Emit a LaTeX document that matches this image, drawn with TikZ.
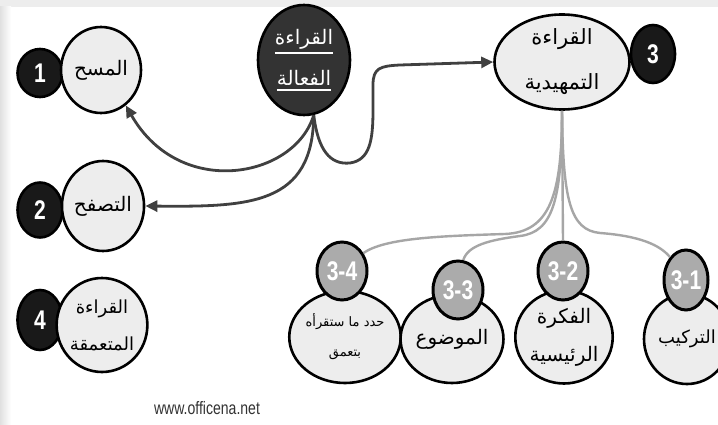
\documentclass[tikz,border=0pt]{standalone}
\usepackage{fontspec}
\setmainfont{Liberation Sans}
\newfontfamily\arabicfont[Script=Arabic]{DejaVu Sans}
\newfontfamily\numfont[FakeStretch=0.78]{Liberation Sans}
\TeXXeTstate=1
\usetikzlibrary{shapes.geometric,arrows.meta}
\def\ulline#1{\vtop{\hbox{\beginR#1\endR}\kern3pt\hrule height 2pt}}
\tikzset{
	numdot/.style={ellipse, draw=black, line width=2.6pt, fill=black!90, text=white, inner sep=0pt, font=\numfont\bfseries\fontsize{27}{27}\selectfont},
	topic/.style={ellipse, draw=black, line width=2.6pt, fill=black!7, inner sep=0pt, align=center, font=\arabicfont\fontsize{20}{38}\selectfont},
	subdot/.style={ellipse, draw=black, line width=3pt, fill=black!33, text=white, inner sep=0pt, minimum width=50pt, minimum height=58pt, font=\numfont\bfseries\fontsize{27}{27}\selectfont},
	arrowline/.style={draw=black!75, line width=2.8pt, -{Triangle[length=12pt,width=11pt]}},
	branch/.style={draw=black!35, line width=2.4pt},
}

\begin{document}
\begin{tikzpicture}[x=1pt, y=-1pt]
			%%%%% START %%%%%
			\useasboundingbox (0, 0) rectangle (718, 425);
			\fill[white] (0, 0) rectangle (718, 425);
			\fill[black!7] (0, 0) rectangle (718, 7);
			\shade[left color=black!12, right color=white] (0, 7) rectangle (11, 425);
			
			\node[numdot, minimum width=45pt, minimum height=48pt] (n1) at (40, 73) {1};
			\node[topic, minimum width=80pt, minimum height=86pt] (scan) at (101, 70) {\beginR المسح\endR};
			
			\node[numdot, minimum width=45pt, minimum height=55pt] (n2) at (40, 210) {2};
			\node[topic, minimum width=80pt, minimum height=90pt] (skim) at (103, 206) {\beginR التصفح\endR};
			
			\node[numdot, minimum width=45pt, minimum height=60pt] (n4) at (40, 320) {4};
			\node[topic, minimum width=80pt, minimum height=94pt, font=\arabicfont\fontsize{18}{37}\selectfont] (deep) at (102, 325) {\beginR القراءة\endR\\\beginR المتعمقة\endR};
			
			\node[ellipse, draw=black, line width=2.6pt, fill=black!80, text=white, inner sep=0pt, minimum width=92pt, minimum height=110pt, align=center, font=\arabicfont\fontsize{20}{41}\selectfont] (active) at (304, 60) {\ulline{القراءة}\\\ulline{الفعالة}};
			
			\node[topic, minimum width=135pt, minimum height=95pt, font=\arabicfont\fontsize{21}{45}\selectfont] (prep) at (562, 62) {\beginR القراءة\endR\\\beginR التمهيدية\endR};
			\node[numdot, minimum width=44pt, minimum height=58pt] (n3) at (653, 54) {3};
			
			% sub steps
			\node[topic, minimum width=86pt, minimum height=92pt, font=\arabicfont\fontsize{13}{30}\selectfont] (s4) at (345, 337) {\beginR حدد ما ستقرأه\endR\\\beginR بتعمق\endR};
			\node[subdot] (s4dot) at (342, 271) {3-4};
			\node[topic, minimum width=84pt, minimum height=88pt] (s3) at (452, 339) {\beginR الموضوع\endR};
			\node[subdot] (s3dot) at (458, 290) {3-3};
			\node[topic, minimum width=88pt, minimum height=93pt] (s2) at (564, 337) {\beginR الفكرة\endR\\\beginR الرئيسية\endR};
			\node[subdot] (s2dot) at (563, 271) {3-2};
			\node[topic, minimum width=86pt, minimum height=90pt, font=\arabicfont\fontsize{18}{30}\selectfont] (s1) at (687, 339) {\beginR التركيب\endR};
			\node[subdot, minimum width=44pt, minimum height=60pt] (s1dot) at (686, 280) {3-1};
			
			\draw[branch] (prep.south) .. controls (562, 195) and (550, 232) .. (505, 234) .. controls (440, 236) and (385, 238) .. (s4dot.40);
			\draw[branch] (prep.south) .. controls (562, 200) and (553, 232) .. (520, 236) .. controls (490, 240) and (468, 245) .. (s3dot.80);
			\draw[branch] (prep.south) -- (s2dot.north);
			\draw[branch] (prep.south) .. controls (563, 200) and (570, 230) .. (600, 233) .. controls (640, 236) and (660, 245) .. (s1dot.125);
			
			% arrows from the centre
			\draw[arrowline] (active.-80) .. controls (295, 178) and (180, 200) .. (scan.-55);
			\draw[arrowline] (active.-80) .. controls (313, 205) and (250, 207) .. (skim.east);
			\draw[arrowline] (active.-80) .. controls (318, 150) and (330, 165) .. (350, 163) .. controls (370, 160) and (373, 140) .. (373, 110) -- (373, 85) .. controls (373, 68) and (380, 66) .. (400, 65) -- (prep.west);
			
			\node[text=black!80, font=\numfont\fontsize{18}{18}\selectfont] (site) at (207, 408) {www.officena.net};
			%%%%% END %%%%%
\end{tikzpicture}
\end{document}
